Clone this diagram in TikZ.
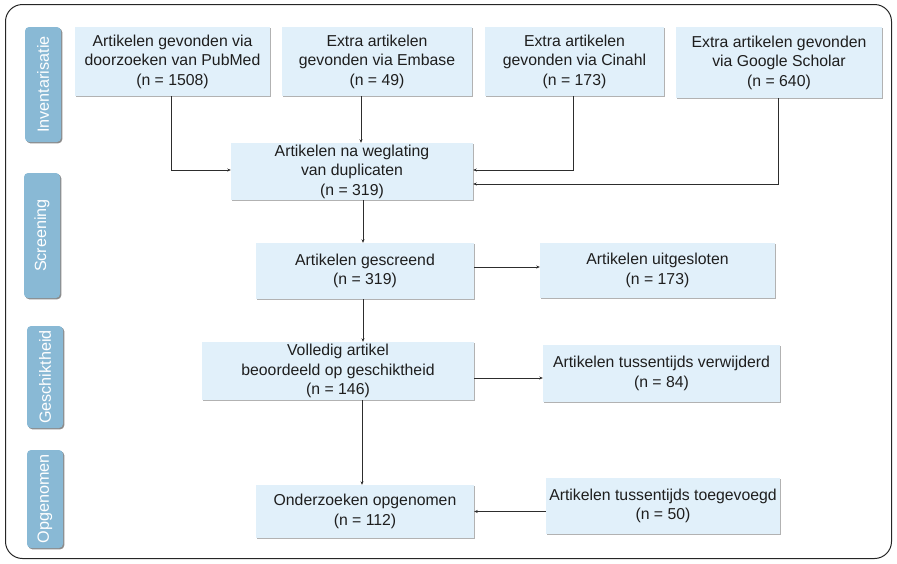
\documentclass[tikz,border=0pt]{standalone}
\usepackage{fontspec}
\setmainfont{Liberation Sans}
\usetikzlibrary{arrows.meta,shadows,calc}
\definecolor{boxfill}{RGB}{225,240,250}
\definecolor{tabfill}{RGB}{137,185,213}
\definecolor{linec}{RGB}{45,45,45}
\definecolor{txtc}{RGB}{30,30,30}
\begin{document}
\begin{tikzpicture}[x=1pt,y=-1pt,
  box/.style={fill=boxfill, draw=none, align=center, text=txtc,
    font=\fontsize{15.8}{19.5}\selectfont, inner sep=0pt,
    drop shadow={shadow xshift=1.3pt, shadow yshift=-1.3pt, fill=black!30, opacity=1}},
  tab/.style={fill=tabfill, draw=none, rounded corners=4pt, inner sep=0pt,
    drop shadow={shadow xshift=1.3pt, shadow yshift=-1.3pt, fill=black!45, opacity=1}},
  tabtext/.style={rotate=90, text=white, font=\fontsize{16.2}{18}\selectfont, inner sep=0pt},
  conn/.style={draw=linec, line width=0.6pt, -{Stealth[length=3.5pt,width=3pt]}}]
\useasboundingbox (0,0) rectangle (897,563);
\draw[line width=1pt, draw=black!85, rounded corners=17pt] (5.5,4.5) rectangle (891.5,558.5);

% side tabs
\node[tab, minimum width=36pt, minimum height=115pt] (t1) at (43,84.5) {};
\node[tabtext] (l1) at (t1) {Inventarisatie};
\node[tab, minimum width=36pt, minimum height=125pt] (t2) at (42,235.5) {};
\node[tabtext] (l2) at (t2) {Screening};
\node[tab, minimum width=36pt, minimum height=102pt] (t3) at (45,377) {};
\node[tabtext] (l3) at (t3) {Geschiktheid};
\node[tab, minimum width=36pt, minimum height=98pt] (t4) at (45,499) {};
\node[tabtext] (l4) at (t4) {Opgenomen};

% boxes
\node[box, minimum width=195pt, minimum height=69pt] (pub) at (172.5,61.5)
  {Artikelen gevonden via\\doorzoeken van PubMed\\(n = 1508)};
\node[box, minimum width=190pt, minimum height=69pt] (emb) at (377,61.5)
  {Extra artikelen\\gevonden via Embase\\(n = 49)};
\node[box, minimum width=179pt, minimum height=69pt] (cin) at (574.5,61.5)
  {Extra artikelen\\gevonden via Cinahl\\(n = 173)};
\node[box, minimum width=206pt, minimum height=71pt] (goo) at (779,62.5)
  {Extra artikelen gevonden\\via Google Scholar\\(n = 640)};
\node[box, minimum width=242pt, minimum height=57pt] (dup) at (352,171.5)
  {Artikelen na weglating\\van duplicaten\\(n = 319)};
\node[box, minimum width=218pt, minimum height=56pt] (ges) at (365,271)
  {Artikelen gescreend\\(n = 319)};
\node[box, minimum width=235pt, minimum height=55pt] (uit) at (657.5,270.5)
  {Artikelen uitgesloten\\(n = 173)};
\node[box, minimum width=272pt, minimum height=58pt] (vol) at (338,371)
  {Volledig artikel\\beoordeeld op geschiktheid\\(n = 146)};
\node[box, minimum width=237pt, minimum height=57pt] (ver) at (661.5,373.5)
  {Artikelen tussentijds verwijderd\\(n = 84)};
\node[box, minimum width=218pt, minimum height=53pt] (ond) at (365,511.5)
  {Onderzoeken opgenomen\\(n = 112)};
\node[box, minimum width=234pt, minimum height=56pt] (toe) at (663,506)
  {Artikelen tussentijds toegevoegd\\(n = 50)};

% connectors
\draw[conn] ([xshift=-1.5pt]pub.south) |- ([yshift=1.5pt]dup.west);
\draw[conn] ([xshift=-16pt]emb.south) -- ([xshift=-16pt]emb.south |- dup.north);
\draw[conn] ([xshift=-1.5pt]cin.south) |- ([yshift=1.5pt]dup.east);
\draw[conn] ([xshift=-1pt]goo.south) |- ([yshift=-12.5pt]dup.east);
\draw[conn] ([xshift=-2pt]ges.north |- dup.south) -- ([xshift=-2pt]ges.north);
\draw[conn] ([yshift=4pt]ges.east) -- ([yshift=4pt]ges.east -| uit.west);
\draw[conn] ([xshift=-2pt]ges.south) -- ([xshift=-2pt]ges.south |- vol.north);
\draw[conn] ([yshift=-7pt]vol.east) -- ([yshift=-7pt]vol.east -| ver.west);
\draw[conn] ([xshift=-3pt]ond.north |- vol.south) -- ([xshift=-3pt]ond.north);
\draw[conn] (ond.east -| toe.west) -- (ond.east);
\end{tikzpicture}
\end{document}
